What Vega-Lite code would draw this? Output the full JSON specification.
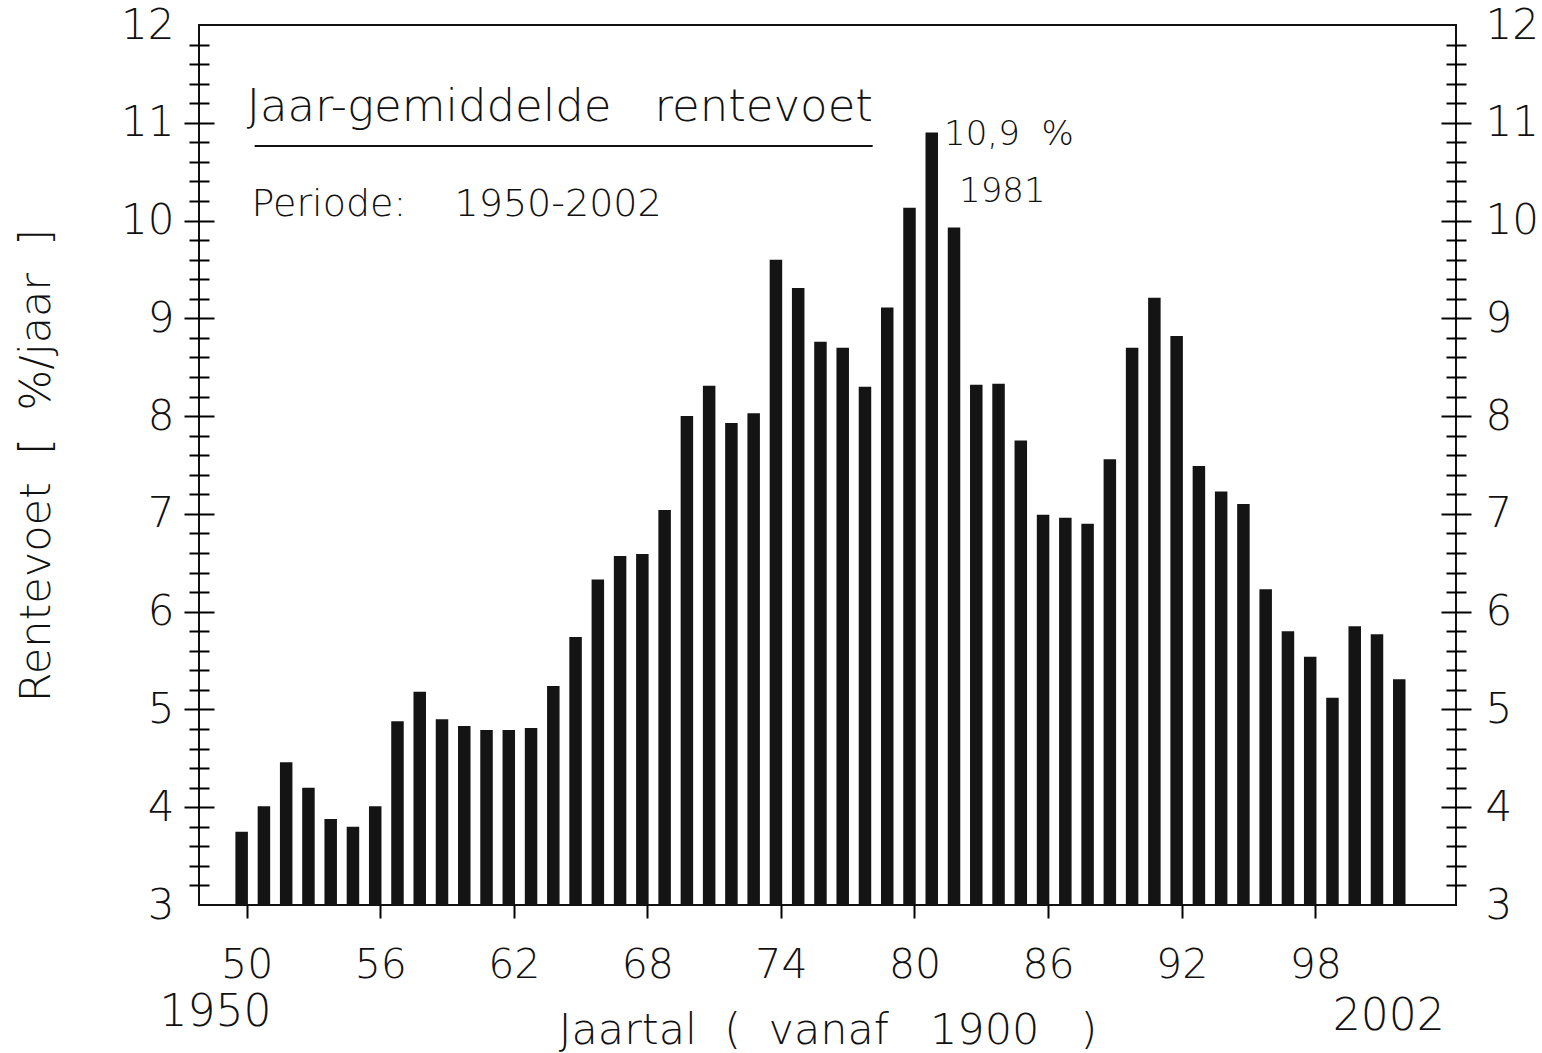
{
  "$schema": "https://vega.github.io/schema/vega-lite/v6.json",
  "width": 1257,
  "height": 880,
  "autosize": {"type": "none"},
  "padding": {"left": 199, "top": 25, "right": 86, "bottom": 148},
  "background": "white",
  "datasets": {
    "rente": [
      {"jaar": 1950, "rente": 3.75}, {"jaar": 1951, "rente": 4.01}, {"jaar": 1952, "rente": 4.46},
      {"jaar": 1953, "rente": 4.20}, {"jaar": 1954, "rente": 3.88}, {"jaar": 1955, "rente": 3.80},
      {"jaar": 1956, "rente": 4.01}, {"jaar": 1957, "rente": 4.88}, {"jaar": 1958, "rente": 5.18},
      {"jaar": 1959, "rente": 4.90}, {"jaar": 1960, "rente": 4.83}, {"jaar": 1961, "rente": 4.79},
      {"jaar": 1962, "rente": 4.79}, {"jaar": 1963, "rente": 4.81}, {"jaar": 1964, "rente": 5.24},
      {"jaar": 1965, "rente": 5.74}, {"jaar": 1966, "rente": 6.33}, {"jaar": 1967, "rente": 6.57},
      {"jaar": 1968, "rente": 6.59}, {"jaar": 1969, "rente": 7.04}, {"jaar": 1970, "rente": 8.00},
      {"jaar": 1971, "rente": 8.31}, {"jaar": 1972, "rente": 7.93}, {"jaar": 1973, "rente": 8.03},
      {"jaar": 1974, "rente": 9.60}, {"jaar": 1975, "rente": 9.31}, {"jaar": 1976, "rente": 8.76},
      {"jaar": 1977, "rente": 8.70}, {"jaar": 1978, "rente": 8.30}, {"jaar": 1979, "rente": 9.11},
      {"jaar": 1980, "rente": 10.13}, {"jaar": 1981, "rente": 10.90}, {"jaar": 1982, "rente": 9.93},
      {"jaar": 1983, "rente": 8.32}, {"jaar": 1984, "rente": 8.33}, {"jaar": 1985, "rente": 7.75},
      {"jaar": 1986, "rente": 6.99}, {"jaar": 1987, "rente": 6.96}, {"jaar": 1988, "rente": 6.90},
      {"jaar": 1989, "rente": 7.56}, {"jaar": 1990, "rente": 8.70}, {"jaar": 1991, "rente": 9.21},
      {"jaar": 1992, "rente": 8.82}, {"jaar": 1993, "rente": 7.49}, {"jaar": 1994, "rente": 7.23},
      {"jaar": 1995, "rente": 7.10}, {"jaar": 1996, "rente": 6.23}, {"jaar": 1997, "rente": 5.80},
      {"jaar": 1998, "rente": 5.54}, {"jaar": 1999, "rente": 5.12}, {"jaar": 2000, "rente": 5.85},
      {"jaar": 2001, "rente": 5.77}, {"jaar": 2002, "rente": 5.31}
    ],
    "onderstreep": [{"jaar": 1950.36, "jaar2": 1978.12, "rente": 10.763}],
    "titel": [{"jaar": 1950.0, "rente": 11.02, "tekst": "Jaar-gemiddelde\u00a0\u00a0\u00a0rentevoet"}],
    "periode": [{"jaar": 1950.22, "rente": 10.047, "tekst": "Periode:\u00a0\u00a0\u00a0\u00a01950-2002"}],
    "piek": [
      {"jaar": 1981.33, "rente": 10.773, "tekst": "10,9\u00a0\u00a0%"},
      {"jaar": 1982.0, "rente": 10.19, "tekst": "1981"}
    ],
    "grens": [
      {"jaar": 1948.6, "rente": 1.76, "tekst": "1950"},
      {"jaar": 2001.3, "rente": 1.72, "tekst": "2002"}
    ]
  },
  "resolve": {"axis": {"y": "independent"}},
  "encoding": {
    "x": {
      "field": "jaar", "type": "quantitative",
      "scale": {"domain": [1948.084, 2004.1], "nice": false, "zero": false},
      "axis": {
        "orient": "bottom",
        "values": [1950, 1956, 1962, 1968, 1974, 1980, 1986, 1992, 1998],
        "labelExpr": "format(datum.value - 1900, 'd')",
        "tickSize": 13, "labelPadding": 27, "labelFontSize": 41, "labelFlush": false,
        "title": "Jaartal\u00a0\u00a0(\u00a0\u00a0vanaf\u00a0\u00a0\u00a01900\u00a0\u00a0\u00a0)", "titleFontSize": 43, "titlePadding": 24
      }
    }
  },
  "layer": [
    {
      "data": {"name": "rente"},
      "mark": {"type": "bar", "width": 12.5, "xOffset": -5, "color": "#141414"},
      "encoding": {
        "y": {
          "field": "rente", "type": "quantitative",
          "scale": {"domain": [3, 12], "nice": false, "zero": false},
          "axis": {
            "orient": "left", "offset": -15, "tickSize": 30,
            "values": [3, 4, 5, 6, 7, 8, 9, 10, 11, 12],
            "tickColor": {"condition": {"test": "datum.value <= 3 || datum.value >= 12", "value": "transparent"}, "value": "black"},
            "labelPadding": 10, "labelFontSize": 42, "labelFlush": false,
            "title": "Rentevoet\u00a0\u00a0[\u00a0\u00a0%/jaar\u00a0\u00a0]", "titleFontSize": 43, "titlePadding": 62
          }
        },
        "y2": {"datum": 3}
      }
    },
    {
      "data": {"name": "onderstreep"},
      "mark": {"type": "rule", "color": "#111", "strokeWidth": 2},
      "encoding": {
        "x2": {"field": "jaar2"},
        "y": {
          "field": "rente", "type": "quantitative",
          "scale": {"domain": [3, 12], "nice": false, "zero": false},
          "axis": {
            "orient": "left", "offset": -10, "tickSize": 20, "labels": false, "title": null,
            "values": [3.2, 3.4, 3.6, 3.8, 4.2, 4.4, 4.6, 4.8, 5.2, 5.4, 5.6, 5.8, 6.2, 6.4, 6.6, 6.8, 7.2, 7.4, 7.6, 7.8, 8.2, 8.4, 8.6, 8.8, 9.2, 9.4, 9.6, 9.8, 10.2, 10.4, 10.6, 10.8, 11.2, 11.4, 11.6, 11.8]
          }
        }
      }
    },
    {
      "data": {"name": "titel"},
      "mark": {"type": "text", "align": "left", "baseline": "alphabetic", "fontSize": 45},
      "encoding": {
        "y": {
          "field": "rente", "type": "quantitative",
          "scale": {"domain": [3, 12], "nice": false, "zero": false},
          "axis": {
            "orient": "right", "offset": -15, "tickSize": 30,
            "values": [3, 4, 5, 6, 7, 8, 9, 10, 11, 12],
            "tickColor": {"condition": {"test": "datum.value <= 3 || datum.value >= 12", "value": "transparent"}, "value": "black"},
            "labelPadding": 14, "labelFontSize": 42, "labelFlush": false, "title": null
          }
        },
        "text": {"field": "tekst"}
      }
    },
    {
      "data": {"name": "periode"},
      "mark": {"type": "text", "align": "left", "baseline": "alphabetic", "fontSize": 38},
      "encoding": {
        "y": {
          "field": "rente", "type": "quantitative",
          "scale": {"domain": [3, 12], "nice": false, "zero": false},
          "axis": {
            "orient": "right", "offset": -10, "tickSize": 20, "labels": false, "title": null,
            "values": [3.2, 3.4, 3.6, 3.8, 4.2, 4.4, 4.6, 4.8, 5.2, 5.4, 5.6, 5.8, 6.2, 6.4, 6.6, 6.8, 7.2, 7.4, 7.6, 7.8, 8.2, 8.4, 8.6, 8.8, 9.2, 9.4, 9.6, 9.8, 10.2, 10.4, 10.6, 10.8, 11.2, 11.4, 11.6, 11.8]
          }
        },
        "text": {"field": "tekst"}
      }
    },
    {
      "data": {"name": "piek"},
      "mark": {"type": "text", "align": "left", "baseline": "alphabetic", "fontSize": 34},
      "encoding": {
        "y": {"field": "rente", "type": "quantitative", "scale": {"domain": [3, 12], "nice": false, "zero": false}, "axis": null},
        "text": {"field": "tekst"}
      }
    },
    {
      "data": {"name": "grens"},
      "mark": {"type": "text", "align": "center", "baseline": "alphabetic", "fontSize": 44},
      "encoding": {
        "y": {"field": "rente", "type": "quantitative", "scale": {"domain": [3, 12], "nice": false, "zero": false}, "axis": null},
        "text": {"field": "tekst"}
      }
    }
  ],
  "config": {
    "view": {"stroke": "#111", "strokeWidth": 2},
    "axis": {
      "grid": false, "domain": false,
      "labelFont": "DejaVu Sans", "titleFont": "DejaVu Sans",
      "labelFontWeight": 200, "titleFontWeight": 200,
      "labelColor": "#111", "titleColor": "#111",
      "tickColor": "black", "tickWidth": 2, "labelBound": false
    },
    "text": {"font": "DejaVu Sans", "fontWeight": 200, "color": "#111"}
  }
}
